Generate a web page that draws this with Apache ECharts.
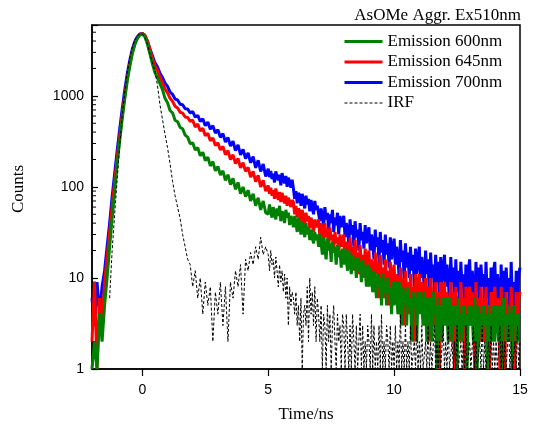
<!DOCTYPE html>
<html>
<head>
<meta charset="utf-8">
<script src="https://cdn.jsdelivr.net/npm/echarts@6/dist/echarts.min.js"></script>
<style>
html,body{margin:0;padding:0;background:#fff;}
#chart{width:534px;height:430px;}
</style>
</head>
<body>
<div id="chart"></div>
<script>
// Early part: t = -2.0 ... 4.9 ns, step 0.1 ns (70 samples, one row = 1 ns)
// Late part:  t =  5.0 ... 15.0 ns, step 0.05 ns (201 samples, one row = 1 ns)
const earlyStart = -2.0, earlyStep = 0.1;
const lateStart = 5.0, lateStep = 0.05;

const xTicks = [0, 5, 10, 15];
const yTicks = [1, 10, 100, 1000];
const yMinorTicks = [2,3,4,5,6,7,8,9,20,30,40,50,60,70,80,90,200,300,400,500,600,700,800,900,2000,3000,4000,5000];

const seriesNames = ['Emission 600nm', 'Emission 645nm', 'Emission 700nm', 'IRF'];

// ---- Emission 700nm ----
const em700Early = [
  6,3,9,4,8,12,22,40,78,140,
  250,430,720,1150,1750,2450,3250,3950,4450,4780,
  4850,4600,4000,3300,2750,2300,2080,1770,1590,1380,
  1270,1100,1040,920,900,810,800,720,715,650,
  670,585,610,525,560,470,515,430,470,390,
  425,350,385,310,350,280,318,250,290,225,
  258,205,236,184,215,162,196,148,178,130
];
const em700Late = [
  158,128,150,122,140,112,148,130,118,136,104,142,120,110,132,100,126,112,98,120,
  96,74,90,66,86,80,62,84,70,58,80,64,74,54,72,60,50,70,56,62,
  64,42,58,48,36,60,44,52,34,50,40,56,32,46,38,52,30,48,36,42,
  48,28,40,34,24,44,30,38,22,42,28,34,20,40,26,32,21,38,24,30,
  36,20,30,24,16,34,22,28,15,32,19,26,14,30,18,24,13,28,16,22,
  27,14,22,17,10,26,15,20,9,24,13,19,10,22,12,18,8,21,11,16,
  22,10,17,13,7,20,11,16,6,19,10,14,7,18,9,15,5,17,8,13,
  18,8,14,10,5,17,9,13,4,16,7,12,6,15,8,11,3,14,7,12,
  16,6,12,9,4,15,7,13,3,14,8,11,5,15,6,10,3,13,7,12,
  15,5,11,8,3,14,6,12,2,13,7,10,4,15,5,9,3,12,6,11,
  13
];

// ---- Emission 645nm ----
const em645Early = [
  2,9,1,6,3,9,17,32,62,115,
  210,360,610,1000,1550,2200,3000,3750,4300,4700,
  4850,4650,4000,3250,2600,2150,1900,1600,1400,1190,
  1080,940,870,770,735,660,645,585,578,525,
  540,455,490,410,440,365,388,322,345,285,
  305,255,278,226,250,200,225,180,205,162,
  184,148,164,128,148,114,134,100,118,90
];
const em645Late = [
  104,84,98,80,92,74,96,82,72,88,68,86,74,66,80,62,76,68,60,72,
  68,50,62,46,58,54,42,56,46,38,52,42,48,35,46,40,32,44,36,40,
  44,28,40,32,24,40,28,34,21,36,26,30,19,32,24,28,18,30,22,26,
  30,16,25,20,13,28,17,22,12,26,15,19,11,23,14,18,10,21,13,17,
  20,10,16,13,7,19,11,15,6,18,10,13,6,16,9,12,5,15,8,11,
  14,6,11,9,4,13,7,10,3,12,7,9,4,11,6,8,2,11,5,9,
  11,5,9,7,3,10,5,8,2,10,6,7,3,9,4,7,1,9,4,8,
  9,4,7,5,2,9,4,7,1,8,5,6,2,9,3,6,1,8,4,7,
  8,3,7,5,1,9,4,6,2,8,4,6,2,8,3,5,1,7,4,6,
  8,3,6,4,1,8,3,6,1,7,4,5,2,8,3,5,1,7,3,6,
  7
];

// ---- Emission 600nm ----
const em600Early = [
  1,2,1,4,2,5,10,22,45,90,
  180,320,560,920,1450,2100,2900,3650,4250,4650,
  4800,4450,3700,2900,2250,1800,1580,1360,1170,940,
  840,690,650,540,520,450,435,370,352,298,
  305,255,270,220,240,195,212,170,190,150,
  168,135,150,118,136,106,124,94,112,84,
  100,78,92,70,84,62,76,56,70,52
];
const em600Late = [
  50,64,54,46,60,52,44,58,48,62,42,54,50,40,56,46,52,38,48,44,
  36,48,40,32,46,38,30,42,34,28,40,30,36,26,34,28,24,32,26,30,
  22,30,24,18,28,21,16,27,20,24,15,25,19,22,14,23,17,20,13,21,
  14,21,16,12,20,15,11,18,13,16,10,17,12,15,9,16,11,13,8,14,
  8,13,10,7,12,9,6,11,8,10,5,11,7,9,5,10,7,8,4,9,
  5,9,7,4,9,6,3,8,5,7,3,8,5,6,2,7,5,6,2,7,
  4,7,5,3,7,5,2,6,4,6,2,7,4,5,1,6,4,5,2,6,
  3,6,4,2,6,4,2,5,3,5,1,6,3,4,2,5,3,4,1,5,
  3,5,4,2,6,3,1,5,3,4,2,5,3,4,1,5,2,4,2,5,
  2,5,4,2,5,3,1,6,3,4,2,5,3,4,1,5,3,4,2,4,
  4
];

// ---- IRF ----
const irfEarly = [
  null,null,null,null,null,null,null,6,20,50,
  120,280,600,1100,1800,2600,3400,4100,4600,4800,
  4800,4400,3700,2900,2300,1900,1300,800,550,380,
  270,180,115,80,60,45,30,22,16,14,
  8,12,6,10,4,9,5,8,2,7,
  4,9,3,8,2,9,6,12,8,14,
  4,16,12,19,14,22,16,28,18,22
];
const irfLate = [
  18,12,20,14,16,10,17,12,8,14,9,12,7,11,6,10,3,8,5,7,
  6,4,7,3,5,2,6,1,4,5,3,8,2,10,4,7,3,8,2,6,
  4,2,5,1,4,3,1,5,2,4,1,3,5,2,1,4,2,3,1,4,
  3,1,4,2,1,3,1,4,2,1,3,1,2,4,1,3,1,2,1,3,
  2,1,4,1,3,1,2,1,3,1,4,1,2,1,3,2,1,3,1,2,
  1,3,1,2,1,4,1,2,1,3,1,2,1,3,1,1,2,1,3,1,
  2,1,3,1,1,2,1,3,1,2,1,1,3,1,2,1,2,1,1,3,
  1,2,1,3,1,1,2,1,2,1,3,1,1,2,1,2,1,3,1,1,
  2,1,1,3,1,2,1,1,2,1,3,1,2,1,1,2,1,3,1,2,
  1,2,1,1,3,1,2,1,2,1,1,3,1,2,1,1,2,1,3,1,
  2
];

function pairs(early, late) {
  const out = [];
  early.forEach((v, i) => out.push([Math.round((earlyStart + i * earlyStep) * 100) / 100, v]));
  late.forEach((v, i) => out.push([Math.round((lateStart + i * lateStep) * 100) / 100, v]));
  return out;
}

const X_MIN = -2, X_MAX = 15, Y_MIN = 1, Y_MAX = 6000;
const serif = '"Liberation Serif", "Times New Roman", serif';
const sans = '"Liberation Sans", Arial, sans-serif';

const legendWidths = [3, 3, 3, 1];

const chart = echarts.init(document.getElementById('chart'), null, {renderer: 'canvas'});
chart.setOption({
  animation: false,
  backgroundColor: '#fff',
  title: {
    text: 'AsOMe Aggr. Ex510nm',
    right: 13, top: 7.5, padding: 0,
    textStyle: {fontFamily: serif, fontSize: 17, fontWeight: 'normal', color: '#000'}
  },
  legend: {
    data: seriesNames.map((n, i) => ({name: n, lineStyle: {width: legendWidths[i]}})),
    orient: 'vertical',
    left: 343, top: 33,
    padding: 0,
    itemWidth: 38, itemHeight: 14, itemGap: 3.5,
    itemStyle: {opacity: 0},
    textStyle: {fontFamily: serif, fontSize: 17, lineHeight: 17, color: '#000'},
    selectedMode: false
  },
  grid: {left: 92, top: 25, width: 428, height: 344, show: true, borderColor: '#000', borderWidth: 1.5, outerBoundsMode: 'none'},
  xAxis: {
    type: 'value', min: X_MIN, max: X_MAX,
    name: 'Time/ns', nameLocation: 'middle', nameGap: 37,
    nameTextStyle: {fontFamily: serif, fontSize: 17, color: '#000'},
    axisLine: {onZero: false, lineStyle: {color: '#000', width: 1.5}},
    axisTick: {customValues: xTicks, length: 7, inside: false, lineStyle: {color: '#000', width: 1.2}},
    axisLabel: {customValues: xTicks, margin: 14, fontFamily: sans, fontSize: 14, color: '#000'},
    splitLine: {show: false}
  },
  yAxis: {
    type: 'log', logBase: 10, min: Y_MIN, max: Y_MAX,
    axisLine: {onZero: false, lineStyle: {color: '#000', width: 1.5}},
    axisTick: {inside: true, length: 6, lineStyle: {color: '#000', width: 1.2}},
    axisLabel: {
      margin: 8, fontFamily: sans, fontSize: 14, color: '#000',
      formatter: function (v) {
        const r = Math.round(v);
        return yTicks.indexOf(r) >= 0 ? String(r) : '';
      }
    },
    splitLine: {show: false}
  },
  graphic: [{
    type: 'text', x: 19, y: 189, rotation: Math.PI / 2,
    style: {text: 'Counts', font: '17px ' + serif, fill: '#000', textAlign: 'center', textVerticalAlign: 'middle'}
  }],
  series: [
    {name: 'Emission 700nm', type: 'line', data: pairs(em700Early, em700Late), symbol: 'none', showSymbol: false,
     lineStyle: {color: '#0000ff', width: 3}, itemStyle: {color: '#0000ff'}, clip: true},
    {name: 'Emission 645nm', type: 'line', data: pairs(em645Early, em645Late), symbol: 'none', showSymbol: false,
     lineStyle: {color: '#ff0000', width: 3}, itemStyle: {color: '#ff0000'}, clip: true},
    {name: 'Emission 600nm', type: 'line', data: pairs(em600Early, em600Late), symbol: 'none', showSymbol: false,
     lineStyle: {color: '#008000', width: 3}, itemStyle: {color: '#008000'}, clip: true},
    {name: 'IRF', type: 'line', data: pairs(irfEarly, irfLate), symbol: 'none', showSymbol: false, connectNulls: false,
     lineStyle: {color: '#000', width: 1, type: [3, 2]}, itemStyle: {color: '#000'}, clip: true},
    {type: 'custom', silent: true, clip: false,
     data: yMinorTicks.map(v => [X_MIN, v]),
     renderItem: function (params, api) {
       const p = api.coord([api.value(0), api.value(1)]);
       return {type: 'line', shape: {x1: p[0], y1: p[1], x2: p[0] + 4, y2: p[1]},
               style: {stroke: '#000', lineWidth: 1}};
     }}
  ]
});
</script>
</body>
</html>
